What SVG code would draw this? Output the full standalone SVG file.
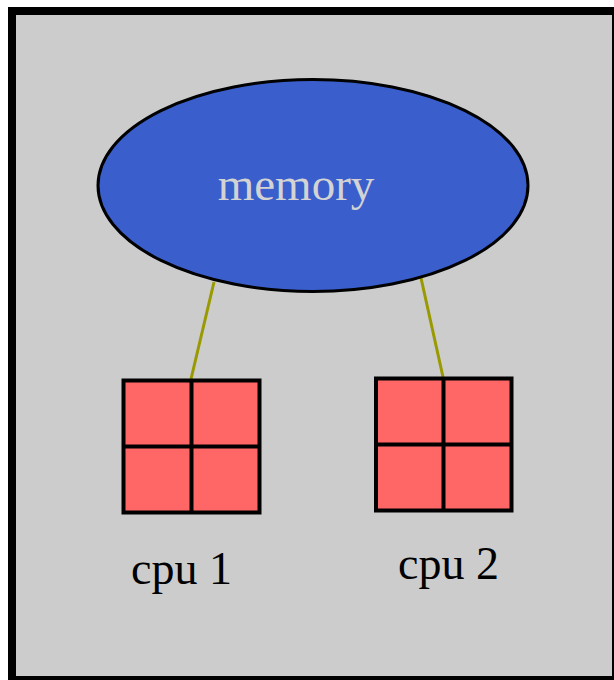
<svg xmlns="http://www.w3.org/2000/svg" width="614" height="680" viewBox="0 0 614 680">
<style>
.cell{fill:#ff6666;stroke:#000;stroke-width:4}
.div{stroke:#000;stroke-width:4}
.lbl{font-family:"Liberation Serif",serif;font-size:46px;fill:#000}
.edge{stroke:#999900;stroke-width:3;fill:none}
</style>
<rect x="12" y="11" width="604" height="669" fill="#cccccc" stroke="#000" stroke-width="8"/>
<g id="connectors">
<line class="edge" x1="214" y1="282" x2="191" y2="379"/>
<line class="edge" x1="421" y1="278" x2="443" y2="377"/>
</g>
<g id="memory">
<ellipse cx="313" cy="185.5" rx="215" ry="106" fill="#3a5fcd" stroke="#000" stroke-width="3"/>
<text x="296" y="200" text-anchor="middle" font-family="Liberation Serif, serif" font-size="47" fill="#d3d3d3">memory</text>
</g>
<g id="cpu1">
<rect class="cell" x="123.5" y="380.5" width="136" height="132"/>
<line class="div" x1="191.5" y1="380.5" x2="191.5" y2="512.5"/>
<line class="div" x1="123.5" y1="446.5" x2="259.5" y2="446.5"/>
<text class="lbl" x="131" y="584">cpu 1</text>
</g>
<g id="cpu2">
<rect class="cell" x="376" y="378.5" width="135.5" height="132"/>
<line class="div" x1="443.5" y1="378.5" x2="443.5" y2="510.5"/>
<line class="div" x1="376" y1="444.5" x2="511.5" y2="444.5"/>
<text class="lbl" x="398" y="579">cpu 2</text>
</g>
</svg>
